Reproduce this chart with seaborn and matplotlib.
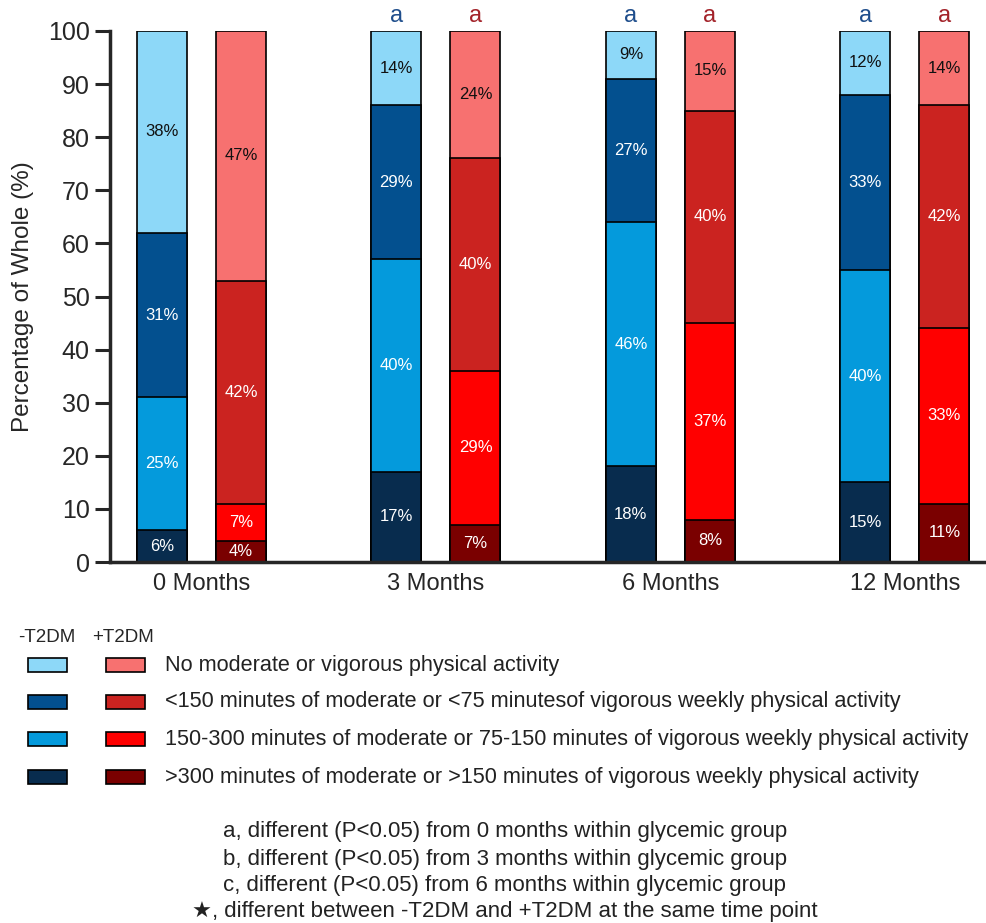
import numpy as np
import pandas as pd
import seaborn as sns
import matplotlib.pyplot as plt
from matplotlib.patches import Rectangle

# data (percent of whole), bottom layer first
times = ['0 Months', '3 Months', '6 Months', '12 Months']
groups = ['-T2DM', '+T2DM']
layers = ['>300 minutes of moderate or >150 minutes of vigorous weekly physical activity',
          '150-300 minutes of moderate or 75-150 minutes of vigorous weekly physical activity',
          '<150 minutes of moderate or <75 minutesof vigorous weekly physical activity',
          'No moderate or vigorous physical activity']

neg_vals = [[6, 17, 18, 15],     # >300
            [25, 40, 46, 40],    # 150-300
            [31, 29, 27, 33],    # <150
            [38, 14, 9, 12]]     # none
pos_vals = [[4, 7, 8, 11],
            [7, 29, 37, 33],
            [42, 40, 40, 42],
            [47, 24, 15, 14]]

sig_letters = ['', 'a', 'a', 'a']

blue_cols = ['#082C4E', '#049ADC', '#03508F', '#8DD8F8']
red_cols = ['#7A0000', '#FF0000', '#CB2320', '#F77170']
txt_cols = ['white', 'white', 'white', '#111111']

footnotes = ['a, different (P<0.05) from 0 months within glycemic group',
             'b, different (P<0.05) from 3 months within glycemic group',
             'c, different (P<0.05) from 6 months within glycemic group',
             '\u2605, different between -T2DM and +T2DM at the same time point']

sns.set_style("ticks")
plt.rcParams['font.family'] = ['Liberation Sans', 'DejaVu Sans']

W, H = 987, 923
fig = plt.figure(figsize=(W / 100, H / 100), dpi=100)
ax = fig.add_axes([110 / W, 361 / H, 877 / W, 531 / H])

neg = np.array(neg_vals)
pos = np.array(pos_vals)
neg_cum = neg.cumsum(axis=0)
pos_cum = pos.cumsum(axis=0)

# draw from top layer down so lower segments overlay
bar_x = {}
for li in range(len(layers) - 1, -1, -1):
    df = pd.DataFrame({
        'time': times * 2,
        'group': [groups[0]] * 4 + [groups[1]] * 4,
        'height': list(neg_cum[li]) + list(pos_cum[li]),
    })
    sns.barplot(data=df, x='time', y='height', hue='group', order=times,
                hue_order=groups, palette={groups[0]: blue_cols[li], groups[1]: red_cols[li]},
                width=0.674, gap=0.367, errorbar=None, edgecolor='black', saturation=1,
                linewidth=1.2, legend=False, ax=ax)
    for gi, cont in enumerate(ax.containers[-2:]):
        bar_x[gi] = [b.get_x() + b.get_width() / 2 for b in cont]

# percentage labels
for gi, (vals, cum) in enumerate([(neg, neg_cum), (pos, pos_cum)]):
    for li in range(len(layers)):
        for ti in range(len(times)):
            yc = cum[li, ti] - vals[li, ti] / 2
            ax.text(bar_x[gi][ti], yc, f'{vals[li, ti]}%', ha='center', va='center',
                    fontsize=12, color=txt_cols[li])

# significance letters
for ti, s in enumerate(sig_letters):
    if s:
        ax.text(bar_x[0][ti], 102.8, s, ha='center', va='center', fontsize=17,
                color='#1F4E8C', clip_on=False)
        ax.text(bar_x[1][ti], 102.8, s, ha='center', va='center', fontsize=17,
                color='#A3232A', clip_on=False)

ax.set_ylim(0, 100)
ax.set_xlim(-0.39, 3.35)
ax.set_yticks(range(0, 101, 10))
ax.set_xlabel('')
ax.set_ylabel('Percentage of Whole (%)', fontsize=17.5, labelpad=10)
ax.tick_params(axis='y', labelsize=18, width=2.2, length=11, pad=3.5, direction='out')
ax.tick_params(axis='x', labelsize=17, length=0, pad=8)
for sp in ['left', 'bottom']:
    ax.spines[sp].set_linewidth(2.5)
for sp in ['top', 'right']:
    ax.spines[sp].set_visible(False)


# legend drawn by hand in pixel coords
def fx(px):
    return px / W


def fy(py):
    return 1 - py / H


fig.text(fx(18), fy(637), '-T2DM', fontsize=13.5, va='center', ha='left')
fig.text(fx(92), fy(637), '+T2DM', fontsize=13.5, va='center', ha='left')
row_y = [665, 702, 739, 777]
for ri, li in enumerate(range(len(layers) - 1, -1, -1)):
    yc = row_y[ri]
    fig.patches.append(Rectangle((fx(28), fy(yc + 7)), 39 / W, 14 / H, transform=fig.transFigure,
                                 facecolor=blue_cols[li], edgecolor='black', linewidth=1.2))
    fig.patches.append(Rectangle((fx(106), fy(yc + 7)), 39 / W, 14 / H, transform=fig.transFigure,
                                 facecolor=red_cols[li], edgecolor='black', linewidth=1.2))
    fig.text(fx(165), fy(yc), layers[li], fontsize=15.6, va='center', ha='left', color='#222222')

note_y = [832, 859, 886, 912]
for ny, note in zip(note_y, footnotes):
    fig.text(fx(505), fy(ny), note, fontsize=16, va='center', ha='center', color='#222222')

fig.savefig('out.png', dpi=100)
